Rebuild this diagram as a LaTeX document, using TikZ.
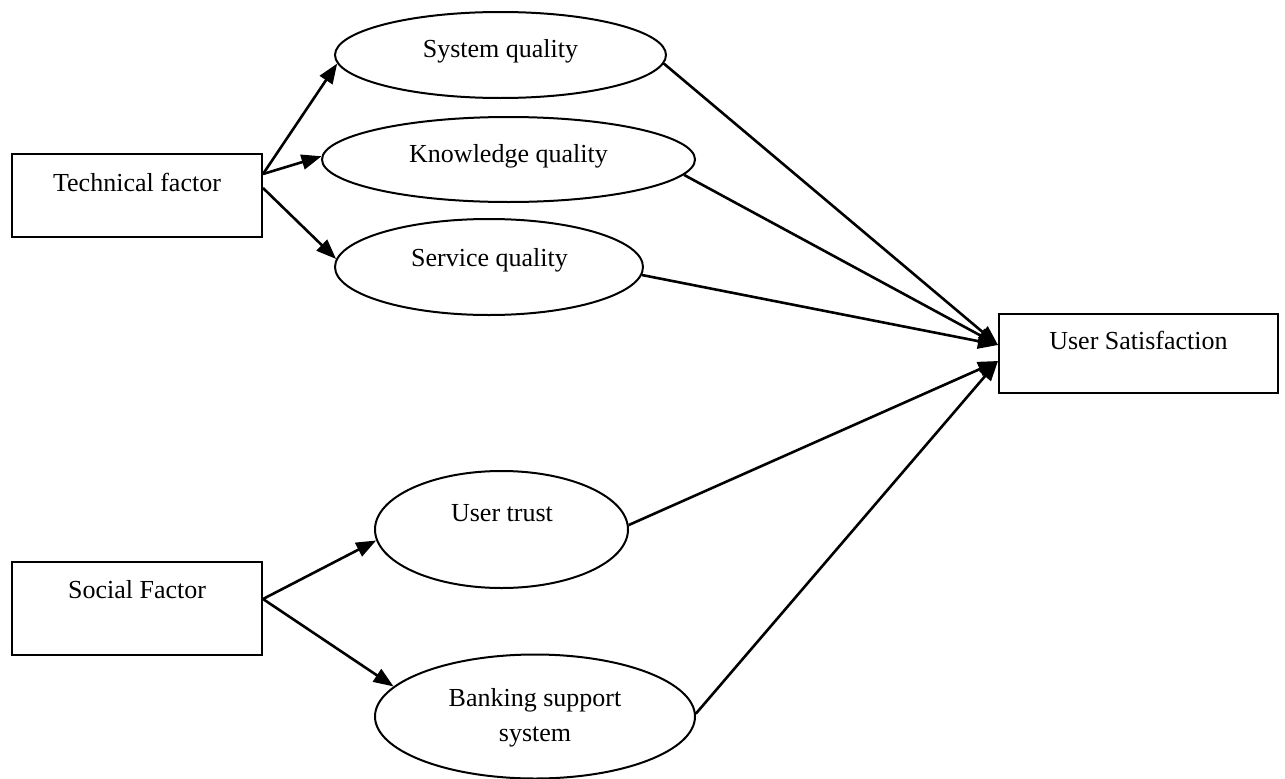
\documentclass[tikz,border=0pt]{standalone}
\usepackage{fontspec}
\setmainfont{Liberation Serif}
\usetikzlibrary{arrows.meta,shapes.geometric}
\begin{document}
\begin{tikzpicture}[x=1pt,y=-1pt,
  box/.style={draw,line width=2pt,rectangle,inner sep=0pt},
  oval/.style={draw,line width=2pt,ellipse,inner sep=0pt},
  lbl/.style={anchor=base,inner sep=0pt,font=\fontsize{26}{35}\selectfont},
  arr/.style={line width=2.6pt,-{Triangle[length=20pt,width=15pt]}}]
\useasboundingbox (0,0) rectangle (1285,779);
% boxes
\node[box,minimum width=250pt,minimum height=83pt] (tf) at (137,195.5) {};
\node[box,minimum width=250pt,minimum height=93pt] (sf) at (137,608.5) {};
\node[box,minimum width=279pt,minimum height=79pt] (us) at (1138.5,353.5) {};
% ellipses
\node[oval,minimum width=331pt,minimum height=86pt] (sq) at (500.5,55) {};
\node[oval,minimum width=373pt,minimum height=85pt] (kq) at (508.5,159.5) {};
\node[oval,minimum width=308pt,minimum height=96pt] (svq) at (489,267) {};
\node[oval,minimum width=253pt,minimum height=117pt] (ut) at (501.5,529.5) {};
\node[oval,minimum width=320pt,minimum height=124pt] (bs) at (535,716.5) {};
% labels
\node[lbl] (tft) at (137,191) {Technical factor};
\node[lbl] (sft) at (137,598) {Social Factor};
\node[lbl] (ust) at (1138.5,349) {User Satisfaction};
\node[lbl] (sqt) at (500.5,57) {System quality};
\node[lbl] (kqt) at (508.5,162) {Knowledge quality};
\node[lbl] (svqt) at (489.5,266) {Service quality};
\node[lbl] (utt) at (502,521) {User trust};
\node[inner sep=0pt,align=center,font=\fontsize{26}{35}\selectfont] (bst) at (535,717.5) {Banking support\\system};
% arrows
\draw[arr] ([yshift=21.5pt]tf.east) -- (sq.183);
\draw[arr] ([yshift=21.5pt]tf.east) -- (kq.179);
\draw[arr] ([yshift=7.5pt]tf.east) -- (svq.177);
\draw[arr] ([yshift=9.5pt]sf.east) -- (ut.185.6);
\draw[arr] ([yshift=9.5pt]sf.east) -- (bs.168.7);
\draw[arr] (sq.357.6) -- ([yshift=8.5pt]us.west);
\draw[arr] (kq.355.8) -- ([yshift=8.5pt]us.west);
\draw[arr] (svq.357) -- ([yshift=8.5pt]us.west);
\draw[arr] (ut.2) -- ([yshift=-7.5pt]us.west);
\draw[arr] (bs.1.6) -- ([yshift=-7.5pt]us.west);
\end{tikzpicture}
\end{document}
